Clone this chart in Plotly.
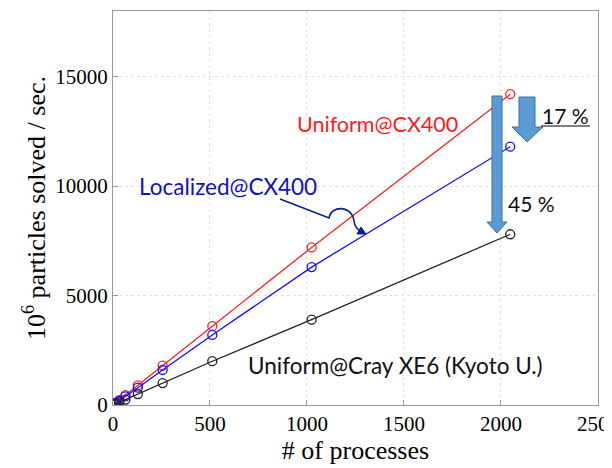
import plotly.graph_objects as go

procs = [8, 16, 32, 64, 128, 256, 512, 1024, 2048]
uniform_cx400 = [56, 112, 225, 450, 900, 1800, 3600, 7200, 14200]
localized_cx400 = [47, 95, 190, 390, 790, 1600, 3200, 6300, 11800]
uniform_xe6 = [31, 62, 125, 250, 500, 1000, 2000, 3900, 7800]
x_ticks = [0, 500, 1000, 1500, 2000, 2500]
y_ticks = [0, 5000, 10000, 15000]

# page body has an 8px margin: shrink the figure so it fits the 612x468 window
OFF = 8
W, H = 612 - OFF, 468 - OFF
L, R, T, B = 113 - OFF, 14, 11 - OFF, 63
PW, PH = W - L - R, H - T - B

def px(x):  # screen pixel -> paper
    return (x - OFF - L) / PW

def py(y):
    return (H - B - (y - OFF)) / PH

fig = go.Figure()
for name, ys, col in [("Uniform@CX400", uniform_cx400, "#ff2020"),
                      ("Localized@CX400", localized_cx400, "#1010ff"),
                      ("Uniform@Cray XE6", uniform_xe6, "#222222")]:
    fig.add_trace(go.Scatter(x=procs, y=ys, mode="lines+markers", name=name,
                             line=dict(color=col, width=1.3),
                             marker=dict(symbol="circle-open", size=9, color=col, line=dict(width=1.3)),
                             showlegend=False))

def path(pts, close=True):
    s = "M " + " L ".join(f"{px(a):.4f},{py(b):.4f}" for a, b in pts)
    return s + (" Z" if close else "")

arrow_fill = "#5b9bd5"
arrow_line = "#41719c"
long_pts = [(492, 96), (502, 96), (502, 222), (507, 222), (497, 233), (487, 222), (492, 222)]
short_pts = [(519, 97), (535, 97), (535, 127), (543, 127), (527, 142), (512, 127), (519, 127)]
shapes = []
for pts in (long_pts, short_pts):
    shapes.append(dict(type="path", xref="paper", yref="paper", path=path(pts),
                       fillcolor=arrow_fill, line=dict(color=arrow_line, width=1)))
shapes.append(dict(type="line", xref="paper", yref="paper", x0=px(541), x1=px(590), y0=py(126), y1=py(126),
                   line=dict(color="black", width=1.2)))
curve = (f"M {px(280):.4f},{py(199):.4f} L {px(329):.4f},{py(218):.4f} "
         f"C {px(331):.4f},{py(205):.4f} {px(352):.4f},{py(205):.4f} {px(354):.4f},{py(221):.4f} "
         f"Q {px(355):.4f},{py(229):.4f} {px(362):.4f},{py(232):.4f}")
shapes.append(dict(type="path", xref="paper", yref="paper", path=curve,
                   line=dict(color="#0a1e8c", width=1.6)))
shapes.append(dict(type="path", xref="paper", yref="paper",
                   path=path([(366, 234), (357, 234), (361, 227)]),
                   fillcolor="#0a1e8c", line=dict(color="#0a1e8c", width=1)))

sans = "Lato"
ann = [
    dict(text="Uniform@CX400", x=px(377), y=py(124), color="#ff1a1a", size=21.5),
    dict(text="Localized@CX400", x=px(228), y=py(186), color="#1010c8", size=22.5),
    dict(text="Uniform@Cray XE6 (Kyoto U.)", x=px(395), y=py(365), color="#111111", size=22.5),
    dict(text="17 %", x=px(565), y=py(116), color="#111111", size=21),
    dict(text="45 %", x=px(531), y=py(203), color="#111111", size=21),
]
annotations = [dict(text=a["text"], x=a["x"], y=a["y"], xref="paper", yref="paper",
                    showarrow=False, xanchor="center", yanchor="middle",
                    font=dict(family=sans, size=a["size"], color=a["color"])) for a in ann]

serif = "Liberation Serif"
grid = "#e2e2e2"
fig.update_layout(
    width=W, height=H, margin=dict(l=L, r=R, t=T, b=B),
    paper_bgcolor="white", plot_bgcolor="white",
    shapes=shapes, annotations=annotations,
    font=dict(family=serif, size=21, color="black"),
    xaxis=dict(range=[0, 2500.5], tickvals=x_ticks, ticktext=[str(v) for v in x_ticks],
               automargin=False, ticklabeloverflow="allow",
               showgrid=True, gridcolor=grid, griddash="dot", gridwidth=1,
               showline=True, mirror=True, linecolor="#999999", linewidth=1.3,
               ticks="inside", ticklen=5, tickcolor="#999999", zeroline=False,
               title=dict(text="# of processes", font=dict(family=serif, size=26), standoff=0),
               tickfont=dict(family=serif, size=21, color="black")),
    yaxis=dict(range=[0, 18000], tickvals=y_ticks, ticktext=[str(v) for v in y_ticks],
               automargin=False,
               showgrid=True, gridcolor=grid, griddash="dot", gridwidth=1,
               showline=True, mirror=True, linecolor="#999999", linewidth=1.3,
               ticks="inside", ticklen=5, tickcolor="#999999", zeroline=False,
               title=dict(text="10<sup>6</sup> particles solved / sec.", font=dict(family=serif, size=26), standoff=2),
               tickfont=dict(family=serif, size=21, color="black")),
)
fig.write_html("out.html")
